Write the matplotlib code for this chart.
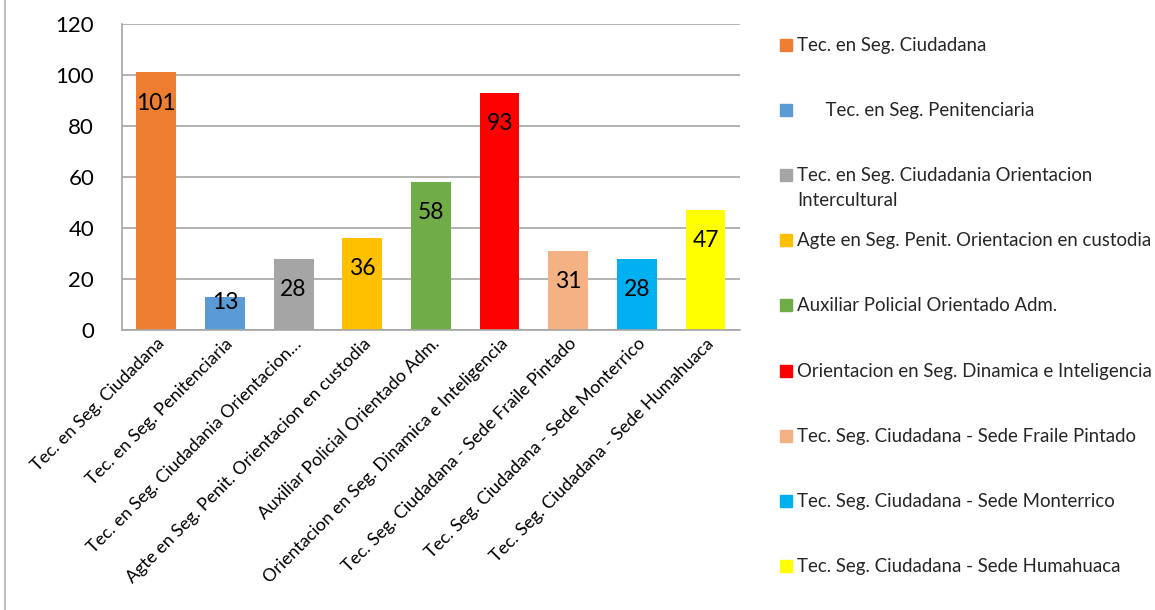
import numpy as np
import matplotlib.pyplot as plt
from matplotlib.lines import Line2D
from matplotlib.patches import Rectangle

plt.rcParams['font.family'] = ['Lato', 'DejaVu Sans']

# categories as shown on the x axis (third one is cut in the original)
tick_labels = ['Tec. en Seg. Ciudadana',
               'Tec. en Seg. Penitenciaria',
               'Tec. en Seg. Ciudadania Orientacion…',
               'Agte en Seg. Penit. Orientacion en custodia',
               'Auxiliar Policial Orientado Adm.',
               'Orientacion en Seg. Dinamica e Inteligencia',
               'Tec. Seg. Ciudadana - Sede Fraile Pintado',
               'Tec. Seg. Ciudadana - Sede Monterrico',
               'Tec. Seg. Ciudadana - Sede Humahuaca']

legend_labels = ['Tec. en Seg. Ciudadana',
                 '      Tec. en Seg. Penitenciaria',
                 'Tec. en Seg. Ciudadania Orientacion\nIntercultural',
                 'Agte en Seg. Penit. Orientacion en custodia',
                 'Auxiliar Policial Orientado Adm.',
                 'Orientacion en Seg. Dinamica e Inteligencia',
                 'Tec. Seg. Ciudadana - Sede Fraile Pintado',
                 'Tec. Seg. Ciudadana - Sede Monterrico',
                 'Tec. Seg. Ciudadana - Sede Humahuaca']

values = [101, 13, 28, 36, 58, 93, 31, 28, 47]

colors = ['#ED7D31', '#5B9BD5', '#A5A5A5', '#FFC000', '#70AD47',
          '#FF0000', '#F4B183', '#00B0F0', '#FFFF00']

fig = plt.figure(figsize=(11.55, 6.10), dpi=100)
ax = fig.add_axes([0.1056, 0.459, 0.535, 0.5017])

x = np.arange(len(values))
ax.bar(x, values, width=0.58, color=colors, zorder=2)

# value labels sit inside the top of each bar
for xi, v in zip(x, values):
    ypos = max(v - 12, 10.6)
    ax.text(xi, ypos, str(v), ha='center', va='center', fontsize=16.5, color='black', zorder=3)

ax.set_ylim(0, 120)
ax.set_xlim(-0.5, len(values) - 0.5)
ax.set_yticks(np.arange(0, 121, 20))
ax.yaxis.grid(True, color='#A6A6A6', lw=1.2, zorder=0)
ax.tick_params(axis='y', length=0, labelsize=16, pad=20)
ax.tick_params(axis='x', length=0, labelsize=12.8, pad=4)
ax.set_xticks(x)
ax.set_xticklabels(tick_labels, rotation=45, ha='right', rotation_mode='anchor')

for s in ['top', 'right']:
    ax.spines[s].set_visible(False)
ax.spines['left'].set_color('#A6A6A6')
ax.spines['bottom'].set_color('#A6A6A6')
ax.spines['left'].set_linewidth(1.2)
ax.spines['bottom'].set_linewidth(1.2)

# legend drawn by hand, one row every 65 px
W, H = 1155, 610
for i, (lab, c) in enumerate(zip(legend_labels, colors)):
    yc = 45 + i * 65.1
    fig.patches.append(Rectangle((780 / W, 1 - (yc + 6) / H), 12 / W, 12 / H,
                                 transform=fig.transFigure, color=c, figure=fig))
    fig.text(797 / W, 1 - (yc - 8) / H, lab, ha='left', va='top', fontsize=13.4,
             linespacing=1.55, color='#262626')

# left border of the chart frame
fig.lines.append(Line2D([5 / W, 5 / W], [0, 1], transform=fig.transFigure,
                        color='#BFBFBF', lw=1.5))

fig.savefig('out.png', dpi=100)
